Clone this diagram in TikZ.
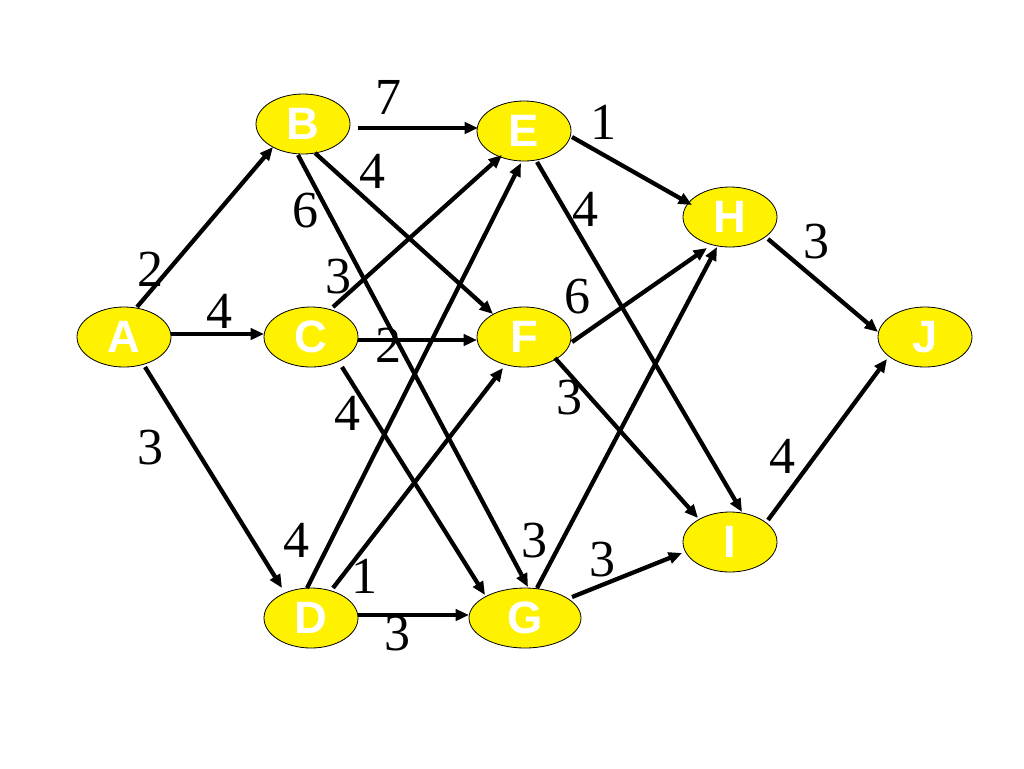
\documentclass[tikz,border=0pt]{standalone}
\usepackage{fontspec}
\setmainfont{Liberation Serif}
\newfontfamily\nodefont{Liberation Sans}
\usetikzlibrary{shapes.geometric,arrows.meta,calc}
\begin{document}
\begin{tikzpicture}[x=0.75pt,y=-0.75pt,
 vtx/.style={ellipse,draw=black,line width=0.6pt,fill=yellow,minimum width=70.5pt,minimum height=45pt,inner sep=0pt,text=white,font=\nodefont\bfseries\fontsize{34}{40}\selectfont},
 widevtx/.style={minimum width=84pt},
 arc/.style={line width=3.2pt,-{Triangle[length=10pt,width=8.5pt]}},
 wt/.style={inner sep=0pt,font=\fontsize{39}{44}\selectfont}]
\useasboundingbox (0,0) rectangle (1024,768);
\node[vtx] (A) at (124,337) {A};
\node[vtx] (B) at (303,124) {B};
\node[vtx] (C) at (311,337) {C};
\node[vtx] (D) at (311,618) {D};
\node[vtx] (E) at (524,131) {E};
\node[vtx] (F) at (524,337) {F};
\node[vtx,widevtx] (G) at (525,618) {G};
\node[vtx] (H) at (730,217) {H};
\node[vtx] (I) at (730,542) {I};
\node[vtx] (J) at (925,337) {J};
\draw[arc] ($(A)+(13,-30)$) -- ($(B)+(-30,23)$);
\draw[arc] ($(A)+(47,-3)$) -- ($(C)+(-47,-3)$);
\draw[arc] ($(A)+(21,30)$) -- ($(D)+(-29,-30)$);
\draw[arc] ($(B)+(55,4)$) -- ($(E)+(-46,-3)$);
\draw[arc] ($(B)+(12,29)$) -- ($(F)+(-31,-23)$);
\draw[arc] ($(B)+(-5,31)$) -- ($(G)+(3,-31)$);
\draw[arc] ($(C)+(22,-30)$) -- ($(E)+(-22,24)$);
\draw[arc] ($(C)+(47,3)$) -- ($(F)+(-47,3)$);
\draw[arc] ($(C)+(31,30)$) -- ($(G)+(-40,-23)$);
\draw[arc] ($(D)+(-4,-30)$) -- ($(E)+(-3,32)$);
\draw[arc] ($(D)+(22,-30)$) -- ($(F)+(-21,31)$);
\draw[arc] ($(D)+(47,-3)$) -- ($(G)+(-56,-3)$);
\draw[arc] ($(E)+(48,6)$) -- ($(H)+(-38,-12)$);
\draw[arc] ($(E)+(13,31)$) -- ($(I)+(12,-30)$);
\draw[arc] ($(F)+(48,5)$) -- ($(H)+(-23,31)$);
\draw[arc] ($(F)+(31,21)$) -- ($(I)+(-32,-24)$);
\draw[arc] ($(G)+(12,-30)$) -- ($(H)+(-13,30)$);
\draw[arc] ($(G)+(47,-21)$) -- ($(I)+(-48,11)$);
\draw[arc] ($(H)+(38,22)$) -- ($(J)+(-47,-5)$);
\draw[arc] ($(I)+(38,-22)$) -- ($(J)+(-38,22)$);
\node[wt] (wAB) at (150,269) {2};
\node[wt] (wAC) at (219,311) {4};
\node[wt] (wAD) at (150,448) {3};
\node[wt] (wBE) at (388,97) {7};
\node[wt] (wBF) at (372,171) {4};
\node[wt] (wBG) at (305,211) {6};
\node[wt] (wCE) at (338,277) {3};
\node[wt] (wCF) at (388,345) {2};
\node[wt] (wCG) at (347,413) {4};
\node[wt] (wDE) at (296,540) {4};
\node[wt] (wDF) at (364,576) {1};
\node[wt] (wDG) at (397,634) {3};
\node[wt] (wEH) at (603,122) {1};
\node[wt] (wEI) at (585,209) {4};
\node[wt] (wFH) at (577,297) {6};
\node[wt] (wFI) at (569,398) {3};
\node[wt] (wGH) at (534,541) {3};
\node[wt] (wGI) at (602,560) {3};
\node[wt] (wHJ) at (816,242) {3};
\node[wt] (wIJ) at (782,456) {4};
\end{tikzpicture}
\end{document}
